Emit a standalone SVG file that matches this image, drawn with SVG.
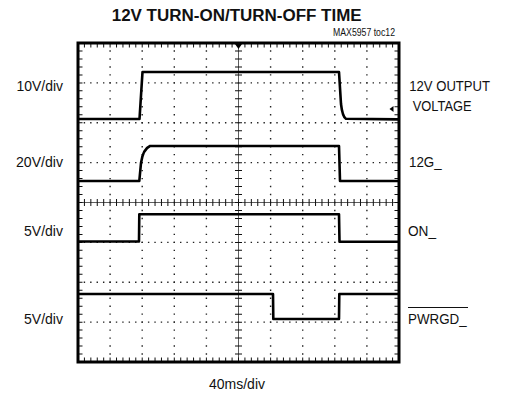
<svg xmlns="http://www.w3.org/2000/svg" width="507" height="401" viewBox="0 0 507 401">
<style>
text{font-family:"Liberation Sans",Arial,sans-serif;fill:#111}
.lbl{font-size:14px}
.title{font-size:16px;font-weight:bold}
.small{font-size:10px}
.gv{stroke:#222;stroke-width:1.4;stroke-dasharray:1.4 6.575;stroke-dashoffset:0.7;fill:none}
.gh{stroke:#222;stroke-width:1.4;stroke-dasharray:1.4 5.02;stroke-dashoffset:0.7;fill:none}
.th{stroke:#111;stroke-dasharray:1 5.42;stroke-dashoffset:0.5;fill:none}
.tv{stroke:#111;stroke-dasharray:1 6.975;stroke-dashoffset:0.5;fill:none}
.trace{stroke:#000;stroke-width:2.6;fill:none;stroke-linejoin:round}
</style>
<rect width="507" height="401" fill="#fff"/>
<g id="titles">
<text class="title" x="236.7" y="20.7" text-anchor="middle" textLength="250" lengthAdjust="spacingAndGlyphs">12V TURN-ON/TURN-OFF TIME</text>
<text class="small" x="395" y="36" text-anchor="end" textLength="62" lengthAdjust="spacingAndGlyphs">MAX5957 toc12</text>
</g>
<g id="grid">
<line class="gv" x1="110.1" y1="43" x2="110.1" y2="362"/>
<line class="gv" x1="142.2" y1="43" x2="142.2" y2="362"/>
<line class="gv" x1="174.3" y1="43" x2="174.3" y2="362"/>
<line class="gv" x1="206.4" y1="43" x2="206.4" y2="362"/>
<line class="gv" x1="270.6" y1="43" x2="270.6" y2="362"/>
<line class="gv" x1="302.7" y1="43" x2="302.7" y2="362"/>
<line class="gv" x1="334.8" y1="43" x2="334.8" y2="362"/>
<line class="gv" x1="366.9" y1="43" x2="366.9" y2="362"/>
<line class="gh" x1="78" y1="82.9" x2="399" y2="82.9"/>
<line class="gh" x1="78" y1="122.75" x2="399" y2="122.75"/>
<line class="gh" x1="78" y1="162.6" x2="399" y2="162.6"/>
<line class="gh" x1="78" y1="242.4" x2="399" y2="242.4"/>
<line class="gh" x1="78" y1="282.25" x2="399" y2="282.25"/>
<line class="gh" x1="78" y1="322.1" x2="399" y2="322.1"/>
<line x1="238.5" y1="43" x2="238.5" y2="362" stroke="#333" stroke-width="0.8"/>
<line x1="78" y1="202.5" x2="399" y2="202.5" stroke="#333" stroke-width="0.8"/>
<line class="tv" x1="238.5" y1="43" x2="238.5" y2="362" stroke-width="7"/>
<line class="th" x1="78" y1="202.5" x2="399" y2="202.5" stroke-width="7"/>
<line class="th" x1="78" y1="45.5" x2="399" y2="45.5" stroke-width="4"/>
<line class="th" x1="78" y1="359.5" x2="399" y2="359.5" stroke-width="4"/>
<line class="tv" x1="80.5" y1="43" x2="80.5" y2="362" stroke-width="4"/>
<line class="tv" x1="396.5" y1="43" x2="396.5" y2="362" stroke-width="4"/>
<rect x="78" y="43" width="321" height="319" fill="none" stroke="#000" stroke-width="3"/>
<polygon points="235,44 242,44 238.5,49" fill="#000"/>
<polygon points="389.5,109 393.5,106 393.5,112" fill="#000"/>
</g>
<g id="traces">
<path id="trace-12v-output" class="trace" d="M78,119 L139.5,119 L142.5,72 L339,72 L341,104 Q342.5,117 346,118.8 L398,119.4"/>
<path id="trace-12g" class="trace" d="M78,181 L139.3,181 L141,163 Q143,149 150,146 L339,146 L340,181 L398,181"/>
<path id="trace-on" class="trace" d="M78,241.5 L139,241.5 L139.3,214.3 L339,214.3 L339.5,241.7 L398,241.7"/>
<path id="trace-pwrgd" class="trace" d="M78,294 L273,294 L273.3,319 L339,319 L339.3,294 L398,294"/>
</g>
<g id="left-labels">
<text class="lbl" x="63" y="90.7" text-anchor="end" textLength="46.6" lengthAdjust="spacingAndGlyphs">10V/div</text>
<text class="lbl" x="63" y="167.3" text-anchor="end" textLength="47" lengthAdjust="spacingAndGlyphs">20V/div</text>
<text class="lbl" x="63" y="236" text-anchor="end" textLength="39" lengthAdjust="spacingAndGlyphs">5V/div</text>
<text class="lbl" x="63" y="324.3" text-anchor="end" textLength="39" lengthAdjust="spacingAndGlyphs">5V/div</text>
</g>
<g id="right-labels">
<text class="lbl" x="409.3" y="90.7" textLength="80.7" lengthAdjust="spacingAndGlyphs">12V OUTPUT</text>
<text class="lbl" x="412.7" y="110.7" textLength="59" lengthAdjust="spacingAndGlyphs">VOLTAGE</text>
<text class="lbl" x="409" y="167.3" textLength="32.7" lengthAdjust="spacingAndGlyphs">12G_</text>
<text class="lbl" x="408" y="236" textLength="28" lengthAdjust="spacingAndGlyphs">ON_</text>
<text class="lbl" x="408" y="324.3" textLength="58.7" lengthAdjust="spacingAndGlyphs">PWRGD_</text>
<line x1="408" y1="307.5" x2="468" y2="307.5" stroke="#111" stroke-width="1"/>
</g>
<g id="axis-label">
<text class="lbl" x="237" y="389" text-anchor="middle" textLength="56" lengthAdjust="spacingAndGlyphs">40ms/div</text>
</g>
</svg>
